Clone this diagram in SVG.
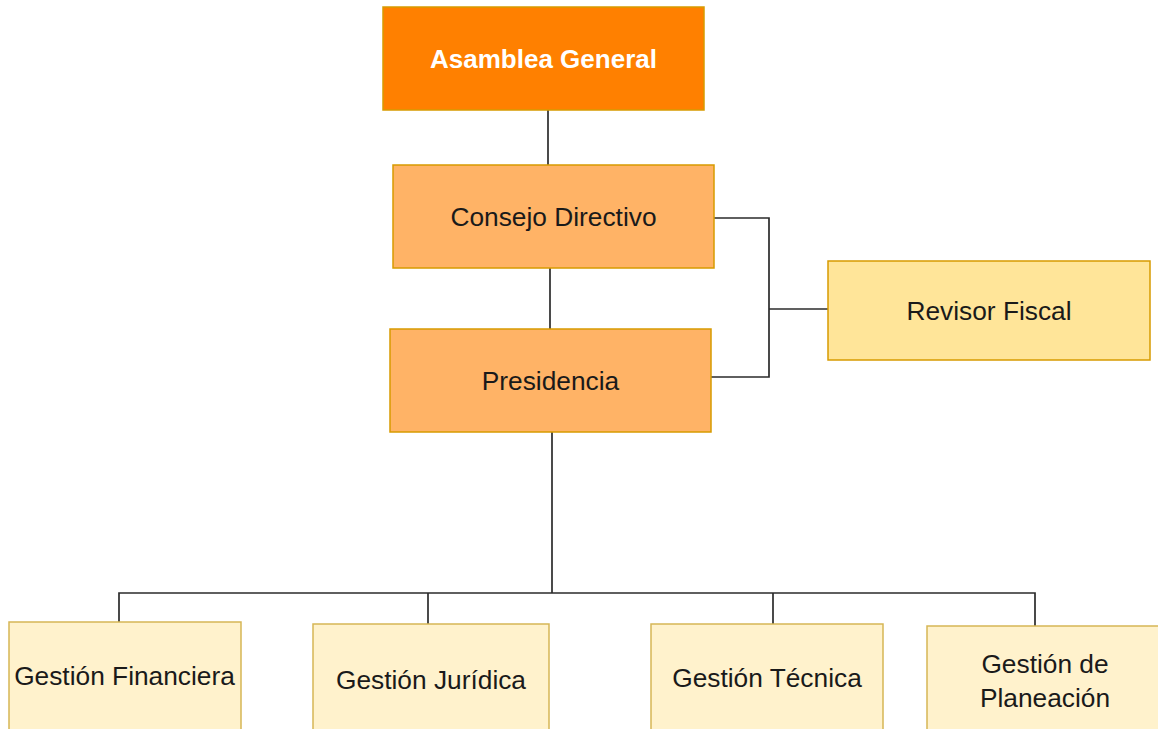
<svg xmlns="http://www.w3.org/2000/svg" width="1158" height="729" viewBox="0 0 1158 729">
<style>
.t{font-family:"Liberation Sans",Arial,sans-serif;font-size:26.3px;fill:#1a1a1a;text-anchor:middle}
.b{font-weight:bold;fill:#ffffff;font-size:26px}
.l1{fill:#FF8000;stroke:#D79B00;stroke-width:1.5}
.l2{fill:#FFB366;stroke:#D79B00;stroke-width:1.5}
.l3{fill:#FFE599;stroke:#D79B00;stroke-width:1.5}
.l4{fill:#FFF2CC;stroke:#D6B656;stroke-width:1.5}
.c{fill:none;stroke:#2b2b2b;stroke-width:1.7}
</style>
<rect width="1158" height="729" fill="#ffffff"/>
<g id="connectors">
<path class="c" d="M548 110V165"/>
<path class="c" d="M550 268V329"/>
<path class="c" d="M714 218H769V377H711"/>
<path class="c" d="M769 309H828"/>
<path class="c" d="M552 432V593"/>
<path class="c" d="M119 622V593H1035V626"/>
<path class="c" d="M428 593V624"/>
<path class="c" d="M773 593V624"/>
</g>
<g id="asamblea">
<rect class="l1" x="383" y="7" width="321" height="103"/>
<text class="t b" x="543.5" y="68">Asamblea General</text>
</g>
<g id="consejo">
<rect class="l2" x="393" y="165" width="321" height="103"/>
<text class="t" x="553.5" y="225.5">Consejo Directivo</text>
</g>
<g id="presidencia">
<rect class="l2" x="390" y="329" width="321" height="103"/>
<text class="t" x="550.5" y="389.5">Presidencia</text>
</g>
<g id="revisor">
<rect class="l3" x="828" y="261" width="322" height="99"/>
<text class="t" x="989" y="319.5">Revisor Fiscal</text>
</g>
<g id="financiera">
<rect class="l4" x="9" y="622" width="232" height="112"/>
<text class="t" x="124.5" y="684.5">Gestión Financiera</text>
</g>
<g id="juridica">
<rect class="l4" x="313" y="624" width="236" height="110"/>
<text class="t" x="431" y="688.5">Gestión Jurídica</text>
</g>
<g id="tecnica">
<rect class="l4" x="651" y="624" width="232" height="110"/>
<text class="t" x="767" y="686.5">Gestión Técnica</text>
</g>
<g id="planeacion">
<rect class="l4" x="927" y="626" width="236" height="108"/>
<text class="t" x="1045" y="672.5">Gestión de</text>
<text class="t" x="1045" y="706.5">Planeación</text>
</g>
</svg>
